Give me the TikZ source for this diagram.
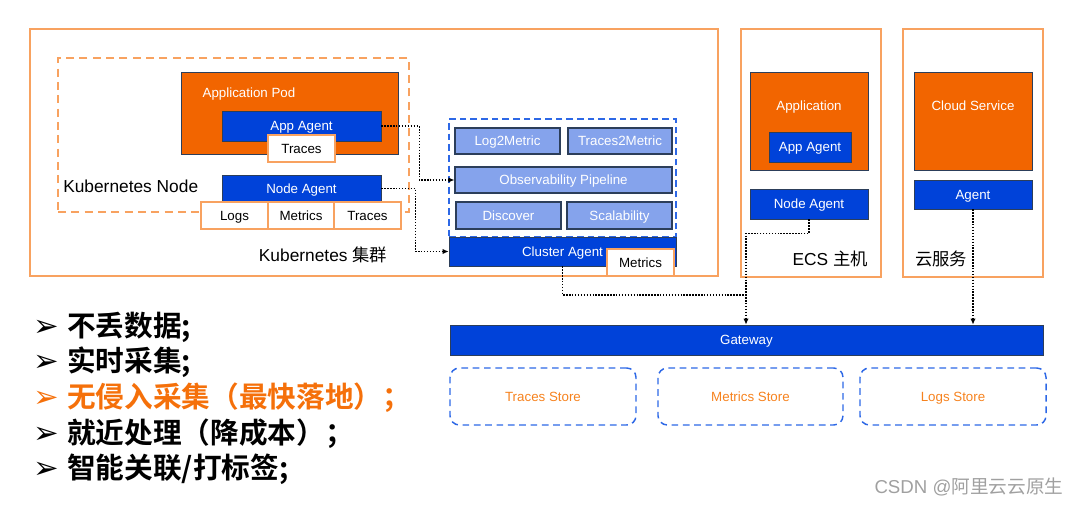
\documentclass[tikz,border=0pt]{standalone}
\usepackage{fontspec}
\setmainfont{Liberation Sans}
\newfontfamily\cjk{Noto Sans CJK SC}
\newfontfamily\cjkb{Noto Sans CJK SC Bold}
\newfontfamily\djv{DejaVu Sans}
\usetikzlibrary{arrows.meta}
\definecolor{korange}{HTML}{F26500}
\definecolor{kblue}{HTML}{0042D9}
\definecolor{klight}{HTML}{85A3EC}
\definecolor{kborder}{HTML}{2C3E5A}
\definecolor{kframe}{HTML}{F8A260}
\definecolor{kdash}{HTML}{2D68E6}
\definecolor{kstore}{HTML}{F6821E}
\definecolor{khl}{HTML}{F5700A}
\definecolor{kgray}{HTML}{A0A0A0}
\newcommand\bul{\makebox[25.5pt][l]{\djv\fontsize{23}{24}\selectfont ➢}}
\begin{document}
\begin{tikzpicture}[x=0.75pt,y=-0.75pt,
  sz/.style 2 args={minimum width=#1*0.75pt, minimum height=#2*0.75pt},
  txt/.style={font=\fontsize{10}{12}\selectfont, text height=7.2pt, text depth=0.4pt},
  frame/.style={draw=kframe, line width=1.1pt, inner sep=0},
  obox/.style={draw=kborder, line width=0.5pt, fill=korange, inner sep=0},
  bbox/.style={draw=kborder, line width=0.5pt, fill=kblue, text=white, inner sep=0, txt},
  lbox/.style={draw=kborder, line width=0.9pt, fill=klight, text=white, inner sep=0, txt},
  wbox/.style={draw=kframe, line width=0.9pt, fill=white, text=black, inner sep=0, txt},
  store/.style={draw=kdash, dash pattern=on 5pt off 3.5pt, line width=1.1pt, rounded corners=7pt, text=kstore, inner sep=0, txt},
  bigl/.style={font=\fontsize{13}{15}\selectfont, inner sep=0},
  dline/.style={draw=black, line width=1.1pt, dash pattern=on 1.1pt off 1.1pt},
  conn/.style={dline, -{Latex[length=4.5pt,width=4pt]}},
  bullet/.style={anchor=west, inner sep=0, font=\fontsize{21.5}{24}\selectfont}
]
\useasboundingbox (0,0) rectangle (1080,505);

% frames
\node[frame, sz={688}{247}] (k8s) at (374,152.5) {};
\node[frame, sz={140}{248}] (ecs) at (811,153) {};
\node[frame, sz={140}{248}] (cloud) at (973,153) {};
\node[draw=kframe, line width=1.2pt, dash pattern=on 6pt off 4pt, inner sep=0, sz={351}{154}] (knode) at (233.5,135) {};

\node[bigl, anchor=west] (knodelbl) at (63,186) {Kubernetes Node};
\node[bigl] (k8slbl) at (323,255) {Kubernetes {\cjk 集群}};
\node[bigl, anchor=east] (ecslbl) at (868,259) {ECS {\cjk 主机}};
\node[bigl, anchor=west] (cloudlbl) at (915,259) {\cjk 云服务};

% kubernetes node
\node[obox, sz={217}{82}] (pod) at (289.5,113) {};
\node[txt, text=white, inner sep=0] (podlbl) at (249,93) {Application Pod};
\node[bbox, sz={159}{30}] (appagent) at (301.5,126) {App Agent};
\node[wbox, sz={67}{27}] (tr1) at (301.5,148.5) {Traces};
\node[bbox, sz={159}{27}] (nodeagent) at (301.5,188.5) {Node Agent};
\node[wbox, sz={67}{27}] (logs) at (234.5,215.5) {Logs};
\node[wbox, sz={66}{27}] (met1) at (301,215.5) {Metrics};
\node[wbox, sz={67}{27}] (tr2) at (367.5,215.5) {Traces};

% pipeline
\node[draw=kdash, dash pattern=on 5pt off 3pt, line width=1.2pt, inner sep=0, sz={227}{118}] (pipe) at (562.5,178) {};
\node[lbox, sz={105}{26}] (l2m) at (507.5,141) {Log2Metric};
\node[lbox, sz={104}{26}] (t2m) at (620,141) {Traces2Metric};
\node[lbox, sz={217}{26}] (obs) at (563.5,180) {Observability Pipeline};
\node[lbox, sz={105}{27}] (disc) at (508.5,215.5) {Discover};
\node[lbox, sz={105}{27}] (scal) at (619.5,215.5) {Scalability};
\node[bbox, sz={227}{29}] (cluster) at (562.5,251.5) {Cluster Agent};
\node[wbox, sz={67}{27}] (met2) at (640.5,262.5) {Metrics};

% ECS
\node[obox, sz={118}{98}] (ecsapp) at (809,121) {};
\node[txt, text=white, inner sep=0] (ecsapplbl) at (809,106) {Application};
\node[bbox, sz={82}{30}] (ecsappagent) at (810,147) {App Agent};
\node[bbox, sz={118}{30}] (ecsnode) at (809,204) {Node Agent};

% cloud
\node[obox, sz={118}{98}] (csvc) at (973,121) {};
\node[txt, text=white, inner sep=0] (csvclbl) at (973,106) {Cloud Service};
\node[bbox, sz={118}{29}] (cagent) at (973,194.5) {Agent};

% gateway & stores
\node[bbox, sz={593}{30}] (gateway) at (746.5,340) {Gateway};
\node[store, sz={186}{57}] (ts) at (543,396.5) {Traces Store};
\node[store, sz={185}{57}] (ms) at (750.5,396.5) {Metrics Store};
\node[store, sz={186}{57}] (ls) at (953,396.5) {Logs Store};

% connectors
\draw[conn] (appagent.east) -- ++(38,0) |- (obs.west);
\draw[conn] (nodeagent.east) -- ++(34,0) |- (cluster.west);
\coordinate (j) at (746,295);
\draw[dline] (cluster.south) |- (j);
\draw[conn] (ecsnode.south) -- ++(0,14) -| (j |- gateway.north);
\draw[conn] (cagent.south) -- (cagent.south |- gateway.north);

% bullets
\node[bullet] (b1) at (33,327) {\bul{\cjkb 不丢数据;}};
\node[bullet] (b2) at (33,362.5) {\bul{\cjkb 实时采集;}};
\node[bullet, text=khl] (b3) at (33,398) {\bul{\cjkb 无侵入采集（最快落地）；}};
\node[bullet] (b4) at (33,433.5) {\bul{\cjkb 就近处理（降成本）；}};
\node[bullet] (b5) at (33,469) {\bul{\cjkb 智能关联/打标签;}};

% watermark
\node[text=kgray, inner sep=0, font=\fontsize{14}{16}\selectfont] (wm) at (969,487) {CSDN @{\cjk 阿里云云原生}};
\end{tikzpicture}
\end{document}
